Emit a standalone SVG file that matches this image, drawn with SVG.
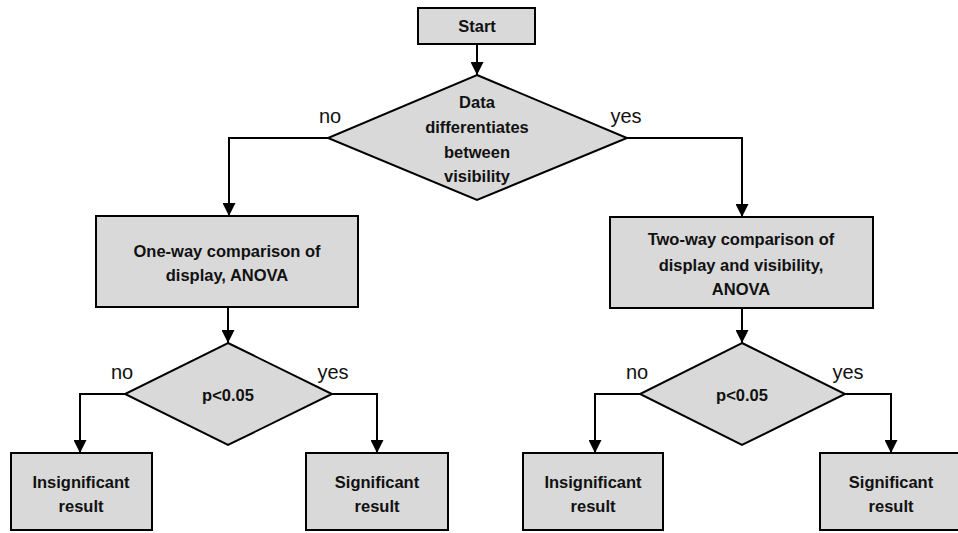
<svg xmlns="http://www.w3.org/2000/svg" width="958" height="533" viewBox="0 0 958 533">
<style>
.n{fill:#d9d9d9;stroke:#000;stroke-width:2}
.t{font-family:"Liberation Sans",Arial,sans-serif;font-weight:bold;font-size:16.5px;fill:#111;text-anchor:middle;dominant-baseline:central}
.l{font-family:"Liberation Sans",Arial,sans-serif;font-size:20px;fill:#111;text-anchor:middle;dominant-baseline:central}
.c{fill:none;stroke:#000;stroke-width:2;marker-end:url(#a)}
</style>
<defs>
<marker id="a" markerWidth="13" markerHeight="13" refX="13" refY="6.5" orient="auto" markerUnits="userSpaceOnUse">
<path d="M0,0 L13,6.5 L0,13 Z" fill="#000"/>
</marker>
</defs>
<rect width="958" height="533" fill="#fff"/>
<g id="connectors">
<path class="c" d="M477,44 V75"/>
<path class="c" d="M328,138 H229 V216"/>
<path class="c" d="M627,138 H742 V217"/>
<path class="c" d="M228,307 V343"/>
<path class="c" d="M742,308 V343"/>
<path class="c" d="M125,394 H80 V453"/>
<path class="c" d="M332,394 H377 V453"/>
<path class="c" d="M640,394 H595 V453"/>
<path class="c" d="M845,394 H891 V453"/>
</g>
<g id="start"><rect class="n" x="418" y="8" width="117" height="36"/><text class="t" x="477" y="26">Start</text></g>
<g id="d1"><polygon class="n" points="477,75 627,138 477,200 328,138"/>
<text class="t" x="477" y="102">Data</text><text class="t" x="477" y="127">differentiates</text><text class="t" x="477" y="152">between</text><text class="t" x="477" y="176">visibility</text></g>
<text class="l" x="330" y="116">no</text>
<text class="l" x="626" y="116">yes</text>
<g id="oneway"><rect class="n" x="96" y="216" width="262" height="91"/><text class="t" x="227" y="251">One-way comparison of</text><text class="t" x="227" y="275">display, ANOVA</text></g>
<g id="twoway"><rect class="n" x="610" y="217" width="263" height="91"/><text class="t" x="741" y="239">Two-way comparison of</text><text class="t" x="741" y="265">display and visibility,</text><text class="t" x="741" y="289">ANOVA</text></g>
<g id="d2"><polygon class="n" points="228,343 332,394 228,445 125,394"/><text class="t" x="228" y="395">p&lt;0.05</text></g>
<g id="d3"><polygon class="n" points="742,343 845,394 742,445 640,394"/><text class="t" x="742" y="395">p&lt;0.05</text></g>
<text class="l" x="122" y="372">no</text>
<text class="l" x="333" y="372">yes</text>
<text class="l" x="637" y="372">no</text>
<text class="l" x="848" y="372">yes</text>
<g id="ins1"><rect class="n" x="11" y="453" width="141" height="77"/><text class="t" x="81" y="482">Insignificant</text><text class="t" x="81" y="506">result</text></g>
<g id="sig1"><rect class="n" x="306" y="453" width="142" height="77"/><text class="t" x="377" y="482">Significant</text><text class="t" x="377" y="506">result</text></g>
<g id="ins2"><rect class="n" x="523" y="453" width="140" height="77"/><text class="t" x="593" y="482">Insignificant</text><text class="t" x="593" y="506">result</text></g>
<g id="sig2"><rect class="n" x="820" y="453" width="150" height="77"/><text class="t" x="891" y="482">Significant</text><text class="t" x="891" y="506">result</text></g>
</svg>
